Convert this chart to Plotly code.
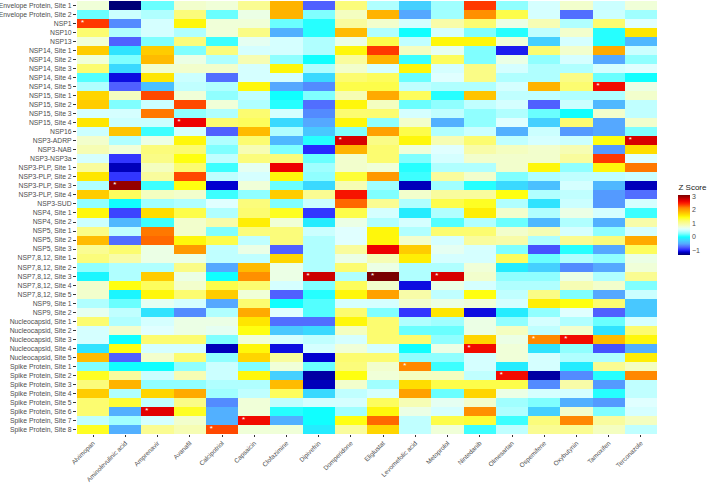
import plotly.graph_objects as go

rows = ["Envelope Protein, Site 1", "Envelope Protein, Site 2", "NSP1", "NSP10", "NSP13",
        "NSP14, Site 1", "NSP14, Site 2", "NSP14, Site 3", "NSP14, Site 4", "NSP14, Site 5",
        "NSP15, Site 1", "NSP15, Site 2", "NSP15, Site 3", "NSP15, Site 4", "NSP16",
        "NSP3-ADRP", "NSP3-NAB", "NSP3-NSP3a", "NSP3-PLP, Site 1", "NSP3-PLP, Site 2",
        "NSP3-PLP, Site 3", "NSP3-PLP, Site 4", "NSP3-SUD", "NSP4, Site 1", "NSP4, Site 2",
        "NSP5, Site 1", "NSP5, Site 2", "NSP5, Site 3", "NSP7,8,12, Site 1", "NSP7,8,12, Site 2",
        "NSP7,8,12, Site 3", "NSP7,8,12, Site 4", "NSP7,8,12, Site 5", "NSP9, Site 1", "NSP9, Site 2",
        "Nucleocapsid, Site 1", "Nucleocapsid, Site 2", "Nucleocapsid, Site 3", "Nucleocapsid, Site 4",
        "Nucleocapsid, Site 5", "Spike Protein, Site 1", "Spike Protein, Site 2", "Spike Protein, Site 3",
        "Spike Protein, Site 4", "Spike Protein, Site 5", "Spike Protein, Site 6", "Spike Protein, Site 7",
        "Spike Protein, Site 8"]

drugs = ["Alvimopan", "Aminolevulinic acid", "Amprenavir", "Avanafil", "Calcipotriol", "Capsaicin",
         "Clofazimine", "Dipivefrin", "Domperidone", "Eliglustat", "Levomefolic acid", "Metoprolol",
         "Nintedanib", "Olmesartan", "Ospemifene", "Oxybutynin", "Tamoxifen", "Terconazole"]

alvimopan = [0.75, 0.2, 2.4, 1.2, 0.75, 1.75, 0.75, 1.2, 0.15, 0.4, 1.7, 1.75, 0.55, 1.6, 0.5, 0.8, 0.9, 0.55, 1.0, 1.6, 0.4, 1.75, 0.3, 1.5, 0.5, 1.1, 1.85, 1.05, 1.15, 0.3, -0.05, 0.8, 0.8, 0.4, 0.65, 1.2, 0.55, 0.55, -0.15, 1.85, 0.25, 1.4, 1.15, 1.75, 1.2, 1.2, 0.45, 1.4]
aminolevulinic = [-1.3, 0.5, -0.6, 0.4, -0.75, -0.15, 0.25, -0.2, -1.05, -0.75, 0.85, 0.25, 0.55, 0.5, 1.8, 0.4, 0.75, -0.9, -1.15, -0.9, 3.0, 1.25, 0.0, -0.85, -0.4, 0.45, -0.7, 1.2, 0.95, 0.4, 0.4, 1.45, -0.05, 0.2, 0.45, 0.4, 0.8, 0.0, 1.45, -0.75, 0.0, 1.0, 1.9, 0.4, 1.35, -0.45, 0.35, -0.45]
amprenavir = [0.2, 0.4, 0.55, 0.55, 0.25, 1.75, 1.85, 0.8, 1.6, -0.35, 2.35, 0.5, 2.2, 0.5, 0.1, 0.7, 1.15, 1.1, 0.85, 1.0, 0.1, 0.85, 0.35, 1.65, 0.1, 2.2, 2.25, 0.7, 0.7, 0.4, 1.75, 1.25, 1.5, 0.65, -0.15, 0.55, 0.6, 1.2, 0.55, 0.8, 0.0, 0.5, 0.3, 1.7, 0.45, 2.7, 0.55, 1.05]
avanafil = [0.8, 1.15, 1.5, 0.4, 1.15, 0.25, 0.7, 0.8, 0.5, 0.45, 0.75, 2.35, 0.3, 2.65, 0.55, 1.5, 1.2, 1.45, 1.2, 2.35, 1.45, 0.8, 0.4, 1.3, 0.8, 0.8, 1.5, 2.05, 0.7, 1.1, 0.7, 0.8, 1.2, 0.55, -0.6, 0.7, 0.7, 1.2, 0.55, 1.2, 0.3, 0.9, 0.3, 1.95, 1.1, 1.4, 0.8, 0.9]
calcipotriol = [0.75, 0.2, 0.75, 0.75, 0.1, 1.15, 0.4, 0.8, -0.7, 0.4, 0.3, 0.75, 0.4, 1.2, -0.75, 0.4, 0.25, 0.45, 0.1, 0.45, -1.1, 0.1, 0.6, 0.4, 0.95, 0.25, 1.3, 0.45, 0.45, -0.5, 0.0, 1.3, 1.75, -0.5, 0.4, 0.7, 0.65, 0.25, -1.15, 0.3, 0.5, 0.5, 0.4, 0.35, -0.6, -0.45, -0.45, 2.35]
capsaicin = [1.05, 0.7, 0.75, 1.1, 0.65, 0.55, 0.9, 0.55, 0.55, 1.5, 0.45, 0.4, 1.2, 1.25, 1.85, 1.2, 0.9, 1.15, 0.65, 0.55, 0.75, 0.3, 1.15, 1.2, 1.55, 1.15, 0.45, 0.7, 0.45, 1.85, 2.1, 1.2, 0.75, 1.2, 1.95, 1.6, 1.45, 0.75, 1.5, 1.7, 0.25, 1.5, 0.4, 0.45, 0.75, 0.75, 2.6, 0.75]
clofazimine = [1.9, 1.9, 0.2, -0.45, 0.55, 0.55, 0.3, 1.5, 0.55, -0.5, 0.0, 0.05, 0.55, -0.2, 0.4, -0.4, 0.25, 1.15, 2.65, 1.5, 0.2, 1.75, 0.25, 1.4, 0.75, 1.15, 1.15, -0.75, 1.7, 0.7, 0.7, 0.55, -0.75, 0.0, 0.6, -0.7, -0.3, 0.55, -1.05, 1.0, 0.75, -0.25, 1.85, 1.25, 0.45, 0.05, -0.45, 0.75]
dipivefrin = [-0.75, 0.25, 0.05, 0.05, 0.4, 0.4, 0.0, 0.4, -0.2, -0.6, 0.25, -0.7, -0.6, -0.5, -0.3, 0.05, -0.95, 0.2, 0.35, 0.3, -0.2, 1.05, 0.5, -0.9, -0.1, 0.5, 0.4, 0.4, 0.4, 0.4, 2.8, 0.25, 0.05, 0.15, 0.15, -0.7, -0.2, 0.45, 0.55, -1.1, 0.2, -1.2, -1.15, -0.2, 0.55, 0.0, 0.0, -0.1]
domperidone = [1.15, 0.85, 1.0, 1.85, 0.7, 1.5, 1.0, 0.8, 1.2, 1.3, 0.9, 1.5, 1.2, 1.5, 0.25, 2.75, 1.9, 0.8, 0.8, 1.35, 0.9, 2.55, 2.25, 1.3, 0.7, 0.6, 0.6, 1.0, 0.7, 1.2, 0.4, 1.25, 1.5, 0.55, 1.2, 1.5, 0.85, 0.55, 0.75, 1.2, 1.15, 1.45, 0.8, 0.45, 0.55, 0.35, 1.45, 1.0]
eliglustat = [0.4, 1.9, 0.8, 0.4, 1.3, 2.4, 1.9, 0.55, 1.25, 1.3, 1.95, 0.85, 1.2, 0.3, 2.0, 1.1, 1.2, 1.2, 0.75, 2.05, 0.35, 0.25, 1.05, 0.55, 0.4, 1.5, 1.5, 2.65, 0.9, 0.7, 3.1, 0.8, 2.0, 0.55, 0.25, 1.2, 1.2, 1.2, 0.55, 1.2, 0.8, 0.75, 0.35, 0.55, 1.25, 1.5, 2.25, 1.7]
levomefolic = [-0.25, -0.5, 0.55, 0.0, 0.45, 0.85, 0.1, 1.5, 0.2, 0.45, 1.25, 0.2, 0.55, 0.8, 1.3, 1.5, 0.75, 0.25, 0.05, 0.1, -1.15, 0.8, 0.4, -0.1, 0.55, 0.4, 0.8, 1.75, 1.55, 0.4, 0.4, -1.05, 0.95, 0.8, -0.9, 0.4, 0.2, 1.2, 0.0, 0.3, 2.15, 0.85, 1.65, 2.0, 0.9, 0.7, 0.45, 0.45]
metoprolol = [0.35, 0.35, 0.95, 0.55, 1.5, 0.65, 1.25, 0.55, 0.6, 0.4, 0.05, 0.3, 0.45, -0.45, 0.4, 0.9, 0.6, 0.55, 0.4, 1.0, 0.35, 1.0, 1.3, 0.4, 0.15, 1.2, 0.55, 0.65, 0.55, 0.4, 2.75, 0.7, 0.45, 0.7, 1.6, 0.35, 0.2, 0.3, 0.7, 0.3, 0.1, 0.85, 1.3, 0.2, 0.65, 0.55, 1.3, 0.75]
nintedanib = [2.4, 2.1, 1.2, 0.25, 1.5, 0.25, 0.25, 1.1, 1.1, 0.4, 1.8, 0.45, 0.3, 0.3, 0.5, 1.2, 0.95, 0.8, 0.4, 0.8, 0.05, 1.0, 1.4, 1.55, 0.4, 1.2, 1.0, 0.55, 0.55, 0.75, 0.8, 0.55, 1.45, 0.75, -1.05, 0.7, 0.7, 1.7, 2.6, 0.55, 0.55, 0.45, 1.3, 1.7, 0.8, 2.1, 1.35, 0.1]
olmesartan = [0.3, 1.3, 0.7, 0.05, 0.75, -1.0, 0.7, 0.55, 0.4, 0.55, 0.45, 0.55, 0.4, 0.6, -0.45, 0.45, 0.85, 0.8, 0.8, 0.25, -0.2, 1.45, 0.4, 0.8, 0.2, 0.8, 0.95, 0.25, 1.25, -0.1, 0.3, 0.4, 0.45, 0.55, -0.1, 0.3, 0.85, 0.7, 0.75, 0.75, -0.1, 2.6, 1.3, 0.7, 0.35, 0.4, 0.1, 0.45]
ospemifene = [0.55, 0.55, 0.9, 0.45, -0.25, 1.2, 0.3, 0.4, 0.4, 1.9, 0.45, -0.75, 0.2, -0.25, 0.5, 0.55, 0.8, 0.8, 1.5, 0.4, -0.35, 0.4, -0.15, 0.4, -0.4, 0.9, 0.4, -0.8, 0.2, -0.25, 0.3, 0.4, 1.1, 1.55, 0.3, 0.55, 0.45, 2.15, -0.15, 0.55, 0.55, -1.2, -0.6, 0.55, 0.25, -0.25, 1.15, 1.05]
oxybutynin = [0.8, -0.7, 0.4, 0.8, 0.55, 0.8, 0.55, 0.4, 1.1, 1.2, 0.4, 0.5, 0.0, 1.2, -0.55, 0.5, 0.9, 1.0, 0.3, 0.45, 0.55, 0.45, 0.5, 0.7, 0.4, 0.55, 1.05, 0.05, 0.4, -0.6, 0.7, 0.9, 0.25, 1.45, 0.6, 0.4, 0.8, 2.6, 0.3, 0.4, -0.1, -0.6, 0.95, 0.55, -0.45, 0.8, 2.15, 1.05]
tamoxifen = [0.5, 0.5, 1.2, 0.05, 0.05, 1.95, -0.5, 0.55, 0.2, 2.6, 0.4, -0.4, 0.8, -0.5, -0.5, 1.45, -0.55, 2.4, 1.5, 0.45, -0.4, -0.55, -0.55, 0.55, -0.45, 0.3, 1.15, -0.5, 0.3, -0.5, 0.4, 0.8, -0.5, 1.2, -0.75, 0.2, -0.15, 1.85, -0.8, 0.4, 1.05, 0.05, -0.55, 0.05, -0.55, 0.25, 1.0, 0.85]
terconazole = [0.75, 0.35, 0.6, 1.6, -0.4, 0.5, 0.3, 0.6, 0.0, 0.7, 0.8, 0.45, 0.45, 0.8, 0.25, 2.75, 1.65, 0.6, 2.2, 0.5, -1.15, -0.7, 0.55, 0.1, 0.95, 0.55, 1.95, 1.25, 0.7, 0.75, 1.05, 0.25, 0.5, -0.3, -0.3, 0.55, 1.2, 1.5, -0.45, 1.55, 0.85, 2.15, 0.45, 0.45, 0.6, 0.55, 0.85, 0.45]

columns = [alvimopan, aminolevulinic, amprenavir, avanafil, calcipotriol, capsaicin, clofazimine,
           dipivefrin, domperidone, eliglustat, levomefolic, metoprolol, nintedanib, olmesartan,
           ospemifene, oxybutynin, tamoxifen, terconazole]

sig_rows = ["NSP1", "NSP14, Site 5", "NSP15, Site 4", "NSP3-ADRP", "NSP3-ADRP", "NSP3-PLP, Site 3",
            "NSP7,8,12, Site 3", "NSP7,8,12, Site 3", "NSP7,8,12, Site 3", "Nucleocapsid, Site 3",
            "Nucleocapsid, Site 3", "Nucleocapsid, Site 4", "Spike Protein, Site 1", "Spike Protein, Site 2",
            "Spike Protein, Site 6", "Spike Protein, Site 7", "Spike Protein, Site 8"]
sig_drugs = ["Alvimopan", "Tamoxifen", "Avanafil", "Domperidone", "Terconazole", "Aminolevulinic acid",
             "Dipivefrin", "Eliglustat", "Metoprolol", "Ospemifene", "Oxybutynin", "Nintedanib",
             "Levomefolic acid", "Olmesartan", "Amprenavir", "Capsaicin", "Calcipotriol"]

colorbar_ticks = [-1, 0, 1, 2, 3]

zmin, zmax = -1.32, 3.1
stops = [(-1.32, "#00006E"), (-1.1, "#0000D0"), (-0.95, "#2828FF"), (-0.75, "#5060FF"),
         (-0.5, "#55A8FF"), (-0.25, "#45D0FF"), (0.0, "#10FFFF"), (0.25, "#80FFFF"),
         (0.45, "#C0FFFF"), (0.6, "#E0FFFF"), (0.75, "#F0FFD8"), (0.95, "#F8FCA8"),
         (1.2, "#FCFC70"), (1.45, "#FFFF10"), (1.6, "#FFE600"), (1.75, "#FFCC00"),
         (1.95, "#FFAA00"), (2.15, "#FF8800"), (2.3, "#FF5800"), (2.45, "#FF2800"),
         (2.65, "#EE0000"), (2.8, "#CC0000"), (3.1, "#7A0000")]
colorscale = [[(v - zmin) / (zmax - zmin), c] for v, c in stops]

nrow, ncol = len(rows), len(drugs)
z = [[columns[j][i] for j in range(ncol)] for i in range(nrow)]

fig = go.Figure()
fig.add_trace(go.Heatmap(
    z=z, x=list(range(ncol)), y=list(range(nrow)),
    zmin=zmin, zmax=zmax, colorscale=colorscale,
    colorbar=dict(
        title=dict(text="Z Score", side="top", font=dict(size=8, color="#222")),
        tickvals=colorbar_ticks, ticks="", outlinewidth=0,
        tickfont=dict(size=7, color="#4D4D4D"),
        thickness=12, len=74, lenmode="pixels", ypad=0, xpad=0,
        x=1.037, xanchor="left", y=0.585, yanchor="top",
    ),
    hoverinfo="skip",
))

fig.add_trace(go.Scatter(
    x=[drugs.index(d) - 0.33 for d in sig_drugs],
    y=[rows.index(r) - 0.05 for r in sig_rows],
    mode="text", text=["*"] * len(sig_rows),
    textfont=dict(color="white", size=8, family="Liberation Sans"),
    showlegend=False, hoverinfo="skip",
))

fig.update_layout(
    width=708, height=484,
    margin=dict(l=77, r=43, t=1, b=50),
    paper_bgcolor="white", plot_bgcolor="white",
    font=dict(family="Liberation Sans, Arial, sans-serif"),
    xaxis=dict(
        tickvals=list(range(ncol)), ticktext=drugs, tickangle=-45,
        range=[-0.5, ncol - 0.5], showgrid=False, zeroline=False,
        ticks="outside", ticklen=2, tickcolor="#333", tickwidth=0.6,
        tickfont=dict(size=6.4, color="#4D4D4D"), automargin=False,
    ),
    yaxis=dict(
        tickvals=list(range(nrow)), ticktext=rows,
        range=[nrow - 0.5, -0.5], showgrid=False, zeroline=False,
        ticks="outside", ticklen=3, tickcolor="#333", tickwidth=0.6,
        tickfont=dict(size=6.8, color="#4D4D4D"), automargin=False,
    ),
)

fig.write_html("out.html", config={"displayModeBar": False},
               post_script="document.body.style.margin='0';")
